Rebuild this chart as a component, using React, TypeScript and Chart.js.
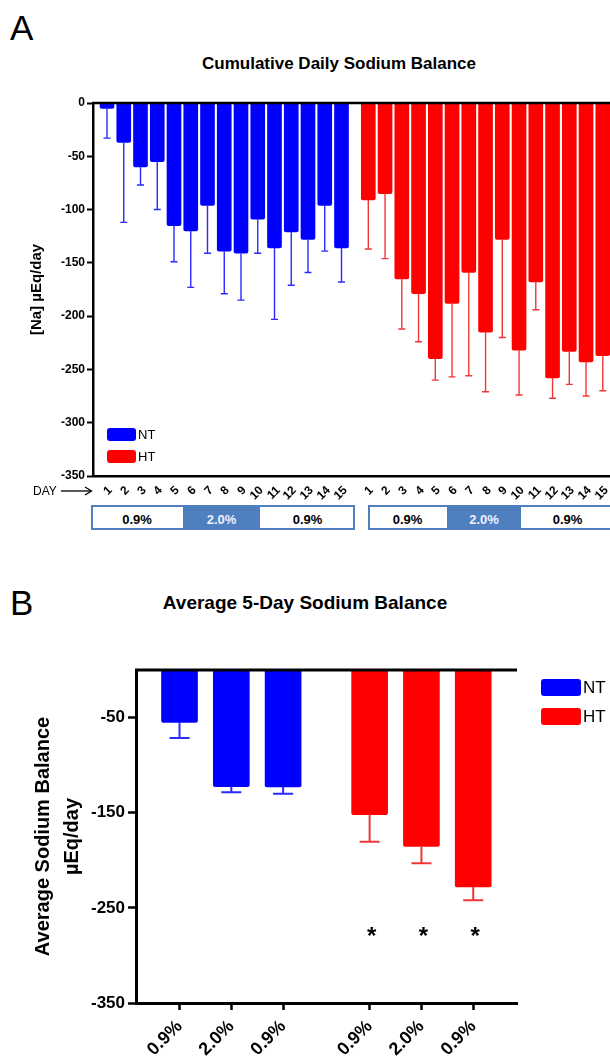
import React, { useEffect, useRef, useState } from 'react';
import { Chart, registerables } from 'chart.js';

Chart.register(...registerables);

// ---------------- DATA ----------------
const DAYS = [1, 2, 3, 4, 5, 6, 7, 8, 9, 10, 11, 12, 13, 14, 15];
const DAY_LABELS = DAYS.map(String);

const NT_DAILY = [-5, -37, -60, -55, -115, -120, -96, -139, -141, -109, -136, -121, -128, -96, -136];
const NT_DAILY_SEM = [28, 75, 17, 45, 34, 53, 45, 40, 44, 32, 67, 50, 31, 43, 32];
const HT_DAILY = [-91, -85, -165, -179, -240, -188, -159, -215, -128, -232, -168, -258, -233, -243, -237];
const HT_DAILY_SEM = [46, 61, 47, 45, 20, 69, 97, 56, 92, 42, 26, 19, 31, 32, 33];

const Y_TICKS_A = [0, -50, -100, -150, -200, -250, -300, -350];

const PHASE_LABELS = ['0.9%', '2.0%', '0.9%'];

const AVG_NT = [-55, -122.5, -123];
const AVG_NT_SEM = [16.5, 6, 7];
const AVG_HT = [-152, -185.5, -228];
const AVG_HT_SEM = [28.5, 17.5, 14];
const AVG_HT_SIG = [true, true, true];

const Y_TICKS_B = [-50, -150, -250, -350];

// ---------------- LAYOUT / STYLE ----------------
const FONT = "'Liberation Sans', Arial, Helvetica, sans-serif";
const BLUE = '#0000ff';
const RED = '#ff0000';
const BLUE_ERR = '#2a2aff';
const RED_ERR = '#ee3838';
const BOX_BLUE = '#4f7fbf';

const A_TOP = 80; // canvas top of panel A
const A_GROUP_OFFSET = 15.6; // HT days placed after NT days
const A_X_MIN = 0.164;
const A_X_MAX = 31.03;
const A_LABEL_DX = 3;
const A_LABEL_DY = 12;

const B_GROUP_OFFSET = 3.67;
const B_X_MIN = 0.16;
const B_X_MAX = 7.515;
const B_STAR_LEVEL = -273;

const A_X = [...DAYS.map((d) => d), ...DAYS.map((d) => d + A_GROUP_OFFSET)];
const A_LABELS = [...DAY_LABELS, ...DAY_LABELS];

const errorBarsPlugin = {
  id: 'errorBars',
  afterDatasetsDraw(chart: any, _args: any, opts: any) {
    const ctx = chart.ctx;
    const y = chart.scales.y;
    chart.data.datasets.forEach((ds: any, di: number) => {
      if (!ds.sem) return;
      const meta = chart.getDatasetMeta(di);
      ctx.save();
      ctx.strokeStyle = ds.errColor;
      ctx.lineWidth = opts.lineWidth || 1.5;
      meta.data.forEach((bar: any, i: number) => {
        const v = ds.data[i].y;
        const yEnd = y.getPixelForValue(v - ds.sem[i]);
        const cap = opts.cap || 4;
        ctx.beginPath();
        ctx.moveTo(bar.x, bar.y);
        ctx.lineTo(bar.x, yEnd);
        ctx.moveTo(bar.x - cap, yEnd);
        ctx.lineTo(bar.x + cap, yEnd);
        ctx.stroke();
      });
      ctx.restore();
    });
  },
};

const zeroLinePlugin = {
  id: 'zeroLine',
  afterDatasetsDraw(chart: any, _args: any, opts: any) {
    const ctx = chart.ctx;
    const y = chart.scales.y.getPixelForValue(0);
    ctx.save();
    ctx.strokeStyle = '#000';
    ctx.lineWidth = opts.width || 2.5;
    ctx.beginPath();
    ctx.moveTo(chart.chartArea.left - 1, y);
    ctx.lineTo(chart.chartArea.right, y);
    ctx.stroke();
    ctx.restore();
  },
};

const starsPlugin = {
  id: 'stars',
  afterDatasetsDraw(chart: any, _args: any, opts: any) {
    const ctx = chart.ctx;
    const yScale = chart.scales.y;
    chart.data.datasets.forEach((ds: any, di: number) => {
      if (!ds.sig) return;
      const meta = chart.getDatasetMeta(di);
      ctx.save();
      ctx.fillStyle = '#000';
      ctx.font = `bold ${opts.size}px ${FONT}`;
      ctx.textAlign = 'center';
      ctx.textBaseline = 'alphabetic';
      meta.data.forEach((bar: any, i: number) => {
        if (!ds.sig[i]) return;
        const yy = yScale.getPixelForValue(opts.level) + opts.size * 0.58;
        ctx.fillText('*', bar.x + 2, yy);
      });
      ctx.restore();
    });
  },
};

function makeChartA(canvas: HTMLCanvasElement) {
  const ntX = A_X.slice(0, DAYS.length);
  const htX = A_X.slice(DAYS.length);
  return new Chart(canvas, {
    type: 'bar',
    data: {
      datasets: [
        {
          label: 'NT',
          data: ntX.map((x, i) => ({ x, y: NT_DAILY[i] })),
          backgroundColor: BLUE,
          barThickness: 14,
          grouped: false,
          borderRadius: 2,
          sem: NT_DAILY_SEM,
          errColor: BLUE_ERR,
        } as any,
        {
          label: 'HT',
          data: htX.map((x, i) => ({ x, y: HT_DAILY[i] })),
          backgroundColor: RED,
          barThickness: 14,
          grouped: false,
          borderRadius: 2,
          sem: HT_DAILY_SEM,
          errColor: RED_ERR,
        } as any,
      ],
    },
    options: {
      animation: false,
      responsive: false,
      layout: { padding: { top: 23, left: 0, right: 0, bottom: 0 } },
      plugins: {
        legend: { display: false },
        tooltip: { enabled: false },
        errorBars: { lineWidth: 1.4, cap: 3.5 },
        zeroLine: { width: 2.5 },
      } as any,
      scales: {
        x: {
          type: 'linear',
          offset: false,
          min: A_X_MIN,
          max: A_X_MAX,
          position: 'bottom',
          grid: { display: false, drawTicks: false },
          border: { display: true, color: '#000', width: 2.5 },
          afterFit: (s: any) => {
            s.height = 44;
          },
          ticks: { display: false },
        } as any,
        y: {
          min: -350,
          max: 0,
          afterBuildTicks: (s: any) => {
            s.ticks = Y_TICKS_A.map((v) => ({ value: v }));
          },
          afterFit: (s: any) => {
            s.width = 93;
          },
          grid: {
            drawOnChartArea: false,
            drawTicks: true,
            tickLength: 6,
            tickWidth: 2,
            tickColor: '#000',
          },
          border: { display: true, color: '#000', width: 2.5 },
          ticks: {
            padding: 2,
            color: '#000',
            font: { family: FONT, size: 12, weight: 'bold' },
          },
          title: {
            display: true,
            text: '[Na] µEq/day',
            color: '#000',
            font: { family: FONT, size: 15, weight: 'bold' },
            padding: { top: 28, bottom: 0 },
          },
        } as any,
      },
    },
    plugins: [errorBarsPlugin, zeroLinePlugin],
  });
}

function makeChartB(canvas: HTMLCanvasElement) {
  const ntX = AVG_NT.map((_v, i) => i + 1);
  const htX = AVG_HT.map((_v, i) => i + 1 + B_GROUP_OFFSET);
  const allX = [...ntX, ...htX];
  const allLabels = [...PHASE_LABELS, ...PHASE_LABELS];
  return new Chart(canvas, {
    type: 'bar',
    data: {
      datasets: [
        {
          label: 'NT',
          data: ntX.map((x, i) => ({ x, y: AVG_NT[i] })),
          backgroundColor: BLUE,
          barThickness: 36,
          grouped: false,
          borderRadius: 2,
          sem: AVG_NT_SEM,
          errColor: BLUE_ERR,
        } as any,
        {
          label: 'HT',
          data: htX.map((x, i) => ({ x, y: AVG_HT[i] })),
          backgroundColor: RED,
          barThickness: 36,
          grouped: false,
          borderRadius: 2,
          sem: AVG_HT_SEM,
          errColor: RED_ERR,
          sig: AVG_HT_SIG,
        } as any,
      ],
    },
    options: {
      animation: false,
      responsive: false,
      layout: { padding: { top: 30, left: 0, right: 93, bottom: 0 } },
      plugins: {
        legend: { display: false },
        tooltip: { enabled: false },
        errorBars: { lineWidth: 2, cap: 10 },
        zeroLine: { width: 3 },
        stars: { size: 24, level: B_STAR_LEVEL },
      } as any,
      scales: {
        x: {
          type: 'linear',
          offset: false,
          min: B_X_MIN,
          max: B_X_MAX,
          position: 'bottom',
          grid: {
            display: true,
            offset: false,
            drawOnChartArea: false,
            drawTicks: true,
            tickLength: 7,
            tickWidth: 2.5,
            tickColor: '#000',
          },
          border: { display: true, color: '#000', width: 3 },
          afterBuildTicks: (s: any) => {
            s.ticks = allX.map((v) => ({ value: v }));
          },
          afterFit: (s: any) => {
            s.height = 61;
          },
          ticks: {
            autoSkip: false,
            minRotation: 45,
            maxRotation: 45,
            padding: 6,
            color: '#000',
            font: { family: FONT, size: 18, weight: 'bold' },
            callback: (_v: any, i: number) => allLabels[i],
          },
        } as any,
        y: {
          min: -350,
          max: 0,
          afterBuildTicks: (s: any) => {
            s.ticks = Y_TICKS_B.map((v) => ({ value: v }));
          },
          afterFit: (s: any) => {
            s.width = 136;
          },
          grid: {
            drawOnChartArea: false,
            drawTicks: true,
            tickLength: 8,
            tickWidth: 2.5,
            tickColor: '#000',
          },
          border: { display: true, color: '#000', width: 3 },
          ticks: {
            padding: 3,
            color: '#000',
            font: { family: FONT, size: 17, weight: 'bold' },
          },
          title: {
            display: true,
            text: ['Average Sodium Balance', 'µEq/day'],
            color: '#000',
            font: { family: FONT, size: 20, weight: 'bold', lineHeight: 1.45 },
            padding: { top: 28.5, bottom: 0 },
          },
        } as any,
      },
    },
    plugins: [errorBarsPlugin, zeroLinePlugin, starsPlugin],
  });
}

const abs = (o: React.CSSProperties): React.CSSProperties => ({ position: 'absolute', ...o });

function PhaseBox({ edges }: { edges: number[] }) {
  const left = edges[0];
  const width = edges[3] - edges[0];
  return (
    <div
      style={abs({
        left,
        top: 505,
        width,
        height: 25,
        border: `2px solid ${BOX_BLUE}`,
        boxSizing: 'border-box',
        overflow: 'hidden',
      })}
    >
      {PHASE_LABELS.map((lab, i) => {
        const mid = i === 1;
        return (
          <div
            key={i}
            style={abs({
              left: edges[i] - left - 2,
              top: 0,
              width: edges[i + 1] - edges[i],
              height: 21,
              background: mid ? BOX_BLUE : '#fff',
              color: mid ? '#eef0ff' : '#000',
              fontWeight: 'bold',
              fontSize: 13,
              textAlign: 'center',
              lineHeight: '13px',
              paddingTop: 6,
              boxSizing: 'border-box',
            })}
          >
            {lab}
          </div>
        );
      })}
    </div>
  );
}

function LegendItem({ x, y, w, h, color, label, size }: any) {
  return (
    <>
      <div style={abs({ left: x, top: y, width: w, height: h, background: color, borderRadius: 3 })} />
      <div
        style={abs({
          left: x + w + 2,
          top: y + h / 2 - size / 2 - 1,
          fontSize: size,
          lineHeight: `${size + 2}px`,
          color: '#000',
        })}
      >
        {label}
      </div>
    </>
  );
}

export default function App() {
  const refA = useRef<HTMLCanvasElement>(null);
  const refB = useRef<HTMLCanvasElement>(null);
  const [dayPos, setDayPos] = useState<{ xs: number[]; y: number } | null>(null);

  useEffect(() => {
    const a = makeChartA(refA.current!);
    const b = makeChartB(refB.current!);
    const xs = A_X.map((v) => a.scales.x.getPixelForValue(v));
    setDayPos({ xs, y: A_TOP + a.chartArea.bottom + A_LABEL_DY });
    return () => {
      a.destroy();
      b.destroy();
    };
  }, []);

  return (
    <div
      style={abs({
        left: 0,
        top: 0,
        width: 610,
        height: 1064,
        background: '#fff',
        overflow: 'hidden',
        fontFamily: FONT,
        color: '#000',
      })}
    >
      <div style={abs({ left: 10, top: 10, fontSize: 35, lineHeight: '35px' })}>A</div>
      <div
        style={abs({
          left: 0,
          top: 55,
          width: 678,
          textAlign: 'center',
          fontSize: 17,
          fontWeight: 'bold',
          lineHeight: '17px',
        })}
      >
        Cumulative Daily Sodium Balance
      </div>

      <canvas ref={refA} width={610} height={440} style={abs({ left: 0, top: A_TOP, width: 610, height: 440 })} />

      {dayPos &&
        dayPos.xs.map((x, i) => (
          <div
            key={i}
            style={abs({
              left: x + A_LABEL_DX - 30,
              top: dayPos.y - 7,
              width: 30,
              height: 14,
              lineHeight: '14px',
              textAlign: 'right',
              fontSize: 12,
              fontWeight: 'bold',
              transformOrigin: '100% 50%',
              transform: 'rotate(-45deg)',
              whiteSpace: 'nowrap',
            })}
          >
            {A_LABELS[i]}
          </div>
        ))}

      <LegendItem x={107} y={428} w={29} h={13} color={BLUE} label="NT" size={13} />
      <LegendItem x={107} y={450} w={29} h={13} color={RED} label="HT" size={13} />

      <div style={abs({ left: 33, top: 484, fontSize: 12, lineHeight: '14px' })}>DAY</div>
      <svg style={abs({ left: 0, top: 480, width: 100, height: 20 })} width={100} height={20}>
        <line x1={61} y1={11} x2={91} y2={11} stroke="#000" strokeWidth={1.3} />
        <polyline points="85,7 91.5,11 85,15" fill="none" stroke="#000" strokeWidth={1.3} />
      </svg>

      <PhaseBox edges={[91, 183, 260, 355]} />
      <PhaseBox edges={[368, 447, 521, 614]} />

      <div style={abs({ left: 10, top: 585, fontSize: 35, lineHeight: '35px' })}>B</div>
      <div
        style={abs({
          left: 0,
          top: 593,
          width: 610,
          textAlign: 'center',
          fontSize: 19,
          fontWeight: 'bold',
          lineHeight: '20px',
        })}
      >
        Average 5-Day Sodium Balance
      </div>

      <canvas ref={refB} width={610} height={424} style={abs({ left: 0, top: 640, width: 610, height: 424 })} />

      <LegendItem x={541} y={679} w={40} h={17} color={BLUE} label="NT" size={17} />
      <LegendItem x={541} y={708} w={40} h={17} color={RED} label="HT" size={17} />
    </div>
  );
}
